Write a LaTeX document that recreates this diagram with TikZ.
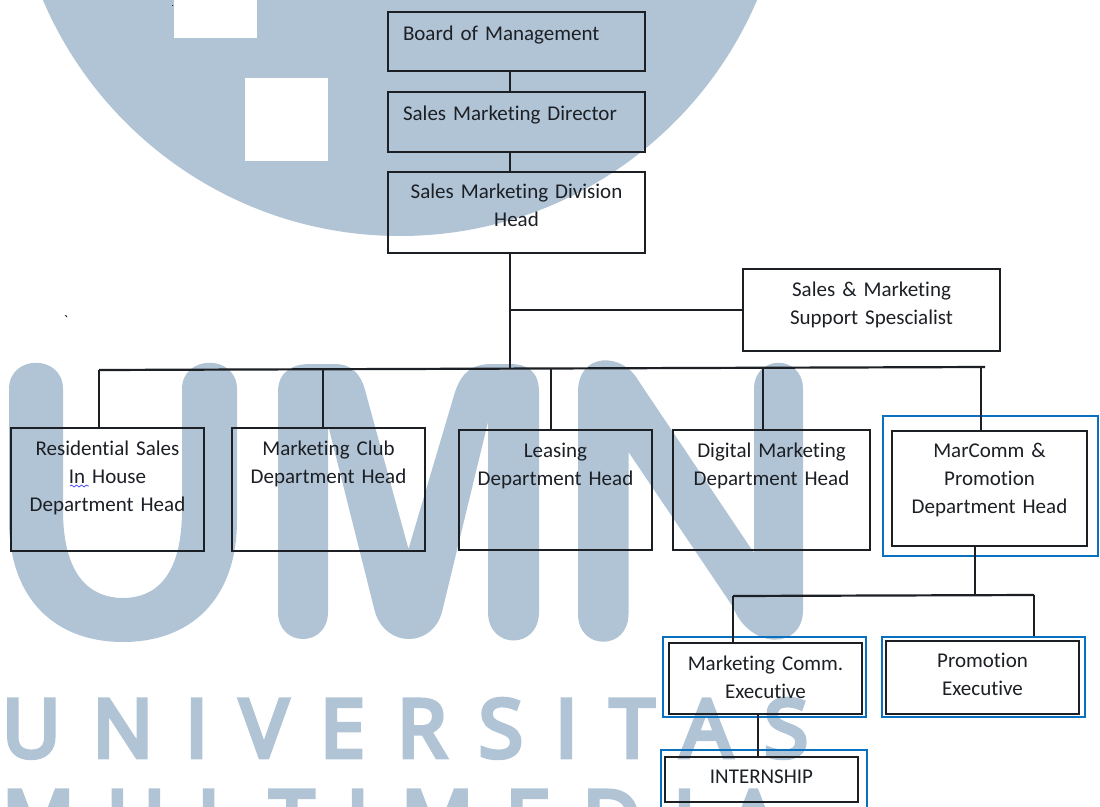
\documentclass[tikz,border=0pt]{standalone}
\usepackage{fontspec}
\setmainfont{Carlito}[Ligatures={NoCommon},WordSpace=0.8]
\newfontfamily\wmfont[LetterSpace=40.5,FakeBold=6]{Open Sans}
\newfontfamily\tickfont{Carlito}
\usetikzlibrary{arrows,decorations.pathmorphing}
\definecolor{wmblue}{HTML}{B1C4D6}
\definecolor{framblue}{HTML}{0A70C0}
\definecolor{inkdark}{HTML}{1C1F24}
\tikzset{
	box/.style={draw=inkdark,line width=1.15pt,inner sep=0pt,align=center,
		font=\fontsize{21}{28}\selectfont,text=inkdark},
	frame/.style={draw=framblue,line width=2.8pt,inner sep=0pt},
	conn/.style={draw=inkdark,line width=2.2pt},
	wmtext/.style={text=wmblue,inner sep=0pt,font=\wmfont\fontsize{80}{80}\selectfont}
}
\begin{document}
\begin{tikzpicture}[x=1pt,y=-1pt]
	\path[use as bounding box,clip] (0,0) rectangle (1100,806);
	\fill[white] (0,0) rectangle (1100,806);
	% watermark
	\fill[wmblue] (400,-152) circle (388pt);
	\fill[white] (174,-20) rectangle (257,38);
	\fill[white] (245,78) rectangle (328,161);
	\fill[wmblue] (9,389) .. controls (9,354) and (63,354) .. (63,389)
		-- (63,510) .. controls (63,578) and (92,598) .. (123,598)
		.. controls (154,598) and (182,578) .. (182,510)
		-- (182,389) .. controls (182,354) and (237,354) .. (237,389)
		-- (237,520) .. controls (237,600) and (190,642) .. (123,642)
		.. controls (56,642) and (9,600) .. (9,520) -- cycle;
	\fill[wmblue] (278,392) .. controls (278,372) and (292,364) .. (310,364)
		-- (335,364) .. controls (350,364) and (360,372) .. (365,390)
		-- (408.5,549) -- (455,392)
		.. controls (462,372) and (472,364) .. (492,364)
		-- (510,364) .. controls (528,364) and (539,372) .. (539,392)
		-- (539,612) .. controls (539,650) and (488,650) .. (488,612)
		-- (488,422) -- (442,612)
		.. controls (432,648) and (386,648) .. (375,612)
		-- (328,425) -- (328,612) .. controls (328,648) and (278,648) .. (278,612) -- cycle;
	\fill[wmblue] (578,392) .. controls (578,352) and (622,352) .. (638,380)
		-- (754,553) -- (754,389) .. controls (754,354) and (803,354) .. (803,389)
		-- (803,610) .. controls (803,650) and (750,650) .. (733,607)
		-- (628.5,452) -- (628.5,614) .. controls (628.5,651) and (578,651) .. (578,614) -- cycle;
	\node[wmtext,anchor=base west] (univ) at (2,757) {UNIVERSITAS};
	\node[wmtext,anchor=base west] (mmedia) at (2,848) {MULTIMEDIA};
	% stray marks
	\fill[inkdark] (171.5,4.5) rectangle (173,5.5);
	\node[inner sep=0pt,font=\tickfont\fontsize{16}{20}\selectfont,text=inkdark] (tick) at (66,321) {`};
	\draw[decorate,decoration={snake,amplitude=1pt,segment length=5pt},draw=blue!75,line width=.7pt] (70,486) -- (89,486);
	% frames
	\node[frame,minimum width=215pt,minimum height=140pt] (marcommframe) at (990.5,486) {};
	\node[frame,minimum width=203pt,minimum height=80pt] (execframe) at (764.5,677) {};
	\node[frame,minimum width=203pt,minimum height=80pt] (promoframe) at (983.5,677) {};
	\node[frame,minimum width=206pt,minimum height=80pt] (internframe) at (764,790) {};
	% boxes
	\node[box,minimum width=257pt,minimum height=59pt,text width=227pt,align=left,text depth=16pt] (board) at (516.5,41.5) {Board of Management};
	\node[box,minimum width=257pt,minimum height=60pt,text width=227pt,align=left,text depth=17pt] (director) at (516.5,122) {Sales Marketing Director};
	\node[box,minimum width=257pt,minimum height=81pt,text width=257pt,text depth=42pt] (division) at (516.5,212.5) {Sales Marketing Division\\Head};
	\node[box,minimum width=257pt,minimum height=82pt,text width=257pt,text depth=41pt] (support) at (871.5,310) {Sales \& Marketing\\Support Spescialist};
	\node[box,minimum width=193pt,minimum height=123pt,text width=193pt,text depth=82pt] (residential) at (107.5,489.5) {Residential Sales\\In House\\Department Head};
	\node[box,minimum width=193pt,minimum height=123pt,text width=193pt,text depth=82pt] (club) at (328.5,489.5) {Marketing Club\\Department Head};
	\node[box,minimum width=193pt,minimum height=120pt,text width=193pt,text depth=79pt] (leasing) at (555.5,490) {Leasing\\Department Head};
	\node[box,minimum width=197pt,minimum height=120pt,text width=197pt,text depth=79pt] (digital) at (771.5,490) {Digital Marketing\\Department Head};
	\node[box,minimum width=195pt,minimum height=115pt,text width=195pt,text depth=76pt] (marcomm) at (989.5,488.5) {MarComm \&\\Promotion\\Department Head};
	\node[box,minimum width=193pt,minimum height=71pt,text width=193pt,text depth=30pt] (exec) at (765.5,678.5) {Marketing Comm.\\Executive};
	\node[box,minimum width=193pt,minimum height=73pt,text width=193pt,text depth=34pt] (promo) at (982.5,677.5) {Promotion\\Executive};
	\node[box,minimum width=193pt,minimum height=45pt,text width=193pt,text depth=6pt] (intern) at (761.5,779.5) {INTERNSHIP};
	% connectors
	\coordinate (trunk) at (510,368);
	\coordinate (busleft) at (99,370);
	\coordinate (busright) at (985,367);
	\coordinate (fork) at (975,596);
	\coordinate (forkleft) at (733,596);
	\coordinate (forkright) at (1034,595);
	\path[conn]
	(board.south -| trunk) edge (director.north -| trunk)
	(director.south -| trunk) edge (division.north -| trunk)
	(division.south -| trunk) edge (trunk)
	(support.west) edge (support.west -| trunk)
	(busleft) edge (busright)
	(busleft) edge (residential.north -| busleft)
	(323,369) edge (club.north -| 323,0)
	(551,368) edge (leasing.north -| 551,0)
	(763,367) edge (digital.north -| 763,0)
	(981,367) edge (marcomm.north -| 981,0)
	(marcomm.south -| fork) edge (fork)
	(forkleft) edge (forkright)
	(forkleft) edge (exec.north -| forkleft)
	(forkright) edge (promoframe.north -| forkright)
	(exec.south -| 758,0) edge (intern.north -| 758,0);
\end{tikzpicture}
\end{document}
